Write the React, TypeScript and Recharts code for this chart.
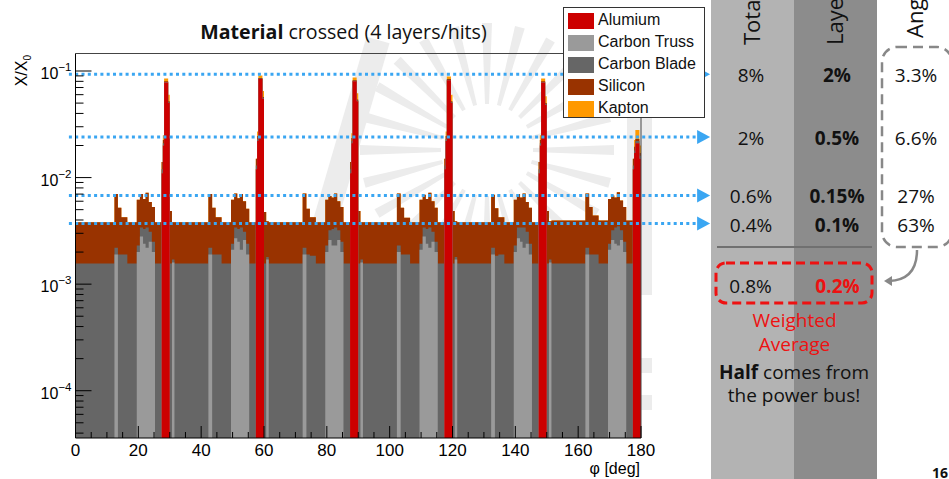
import React from 'react';
import { ComposedChart, Area, XAxis, YAxis, ReferenceLine } from 'recharts';

// ---------------- DATA ----------------
// start of each phi bin segment [deg]
const phiStart: number[] = [
  0, 12.4, 13.5, 14.6, 16.5, 19.5, 20.5, 21.5, 22.3, 23.3, 24.3, 25.3, 27.4, 27.8, 28.2, 29.5,
  30, 30.7, 31.5, 42.3, 43.5, 44.6, 46.5, 49.5, 50.5, 51.5, 52.3, 53.3, 54.3, 55.3, 57.4, 57.8, 58.2, 59.5,
  60, 60.7, 61.5, 72.3, 73.5, 74.6, 76.5, 79.5, 80.5, 81.5, 82.3, 83.3, 84.3, 85.3, 87.4, 87.8, 88.2, 89.5,
  90, 90.7, 91.5, 102.3, 103.5, 104.6, 106.5, 109.5, 110.5, 111.5, 112.3, 113.3, 114.3, 115.3, 117.4, 117.8, 118.2, 119.5,
  120, 120.7, 121.5, 132.3, 133.5, 134.6, 136.5, 139.5, 140.5, 141.5, 142.3, 143.3, 144.3, 145.3, 147.4, 147.8, 148.2, 149.5,
  150, 150.7, 151.5, 162.3, 163.5, 164.6, 166.5, 169.5, 170.5, 171.5, 172.3, 173.3, 174.3, 175.3, 177.4, 177.8, 178.2, 179.5,
  180,
];

// material budget per segment, in units of 1e-3 X/X0
const alumium: number[] = [
  0, 0, 0, 0, 0, 0, 0, 0, 0, 0, 0, 0, 11, 20, 78, 50,
  0, 0, 0, 0, 0, 0, 0, 0, 0, 0, 0, 0, 0, 0, 12, 22, 84, 55,
  0, 0, 0, 0, 0, 0, 0, 0, 0, 0, 0, 0, 0, 0, 11, 21, 80, 52,
  0, 0, 0, 0, 0, 0, 0, 0, 0, 0, 0, 0, 0, 0, 12, 22, 82, 50,
  0, 0, 0, 0, 0, 0, 0, 0, 0, 0, 0, 0, 0, 0, 11, 20, 78, 48,
  0, 0, 0, 0, 0, 0, 0, 0, 0, 0, 0, 0, 0, 0, 12, 17, 21, 15,
  15,
];
const carbonTruss: number[] = [
  0, 1.9, 0, 0, 0, 2.0, 2.8, 2.4, 2.2, 2.5, 2.0, 0, 0, 0, 0, 0,
  0, 1.6, 0, 1.9, 0, 0, 0, 2.1, 2.7, 2.5, 2.1, 2.6, 1.9, 0, 0, 0, 0, 0,
  0, 1.7, 0, 1.9, 0, 0, 0, 2.0, 2.6, 2.3, 2.3, 2.6, 2.0, 0, 0, 0, 0, 0,
  0, 1.6, 0, 2.0, 0, 0, 0, 2.1, 2.8, 2.4, 2.2, 2.5, 2.0, 0, 0, 0, 0, 0,
  0, 1.7, 0, 1.9, 0, 0, 0, 2.0, 2.7, 2.5, 2.2, 2.4, 1.9, 0, 0, 0, 0, 0,
  0, 1.6, 0, 1.9, 0, 0, 0, 2.1, 2.6, 2.4, 2.3, 2.6, 2.0, 0, 0, 0, 0, 0,
  0,
];
const carbonBlade: number[] = [
  1.56, 0.3, 1.9, 1.9, 1.56, 0.3, 0.6, 0.9, 1.2, 0.6, 0.5, 1.56, 1.0, 1.0, 1.0, 1.0,
  1.56, 0.1, 1.56, 0.3, 1.9, 1.9, 1.56, 0.3, 0.7, 0.8, 1.3, 0.5, 0.5, 1.56, 1.0, 1.0, 1.0, 1.0,
  1.56, 0.1, 1.56, 0.3, 1.9, 1.85, 1.56, 0.3, 0.6, 1.0, 1.1, 0.6, 0.5, 1.56, 1.0, 1.0, 1.0, 1.0,
  1.56, 0.1, 1.56, 0.3, 1.9, 1.9, 1.56, 0.3, 0.6, 0.9, 1.2, 0.6, 0.5, 1.56, 1.0, 1.0, 1.0, 1.0,
  1.56, 0.1, 1.56, 0.3, 1.85, 1.9, 1.56, 0.3, 0.7, 0.9, 1.2, 0.7, 0.5, 1.56, 1.0, 1.0, 1.0, 1.0,
  1.56, 0.1, 1.56, 0.3, 1.9, 1.9, 1.56, 0.3, 0.6, 1.0, 1.2, 0.6, 0.5, 1.56, 1.0, 1.0, 1.0, 1.0,
  1.0,
];
const silicon: number[] = [
  2.24, 4.8, 3.3, 2.35, 2.24, 3.9, 3.6, 3.0, 3.8, 2.8, 2.8, 2.24, 2.0, 1.5, 1.0, 1.0,
  3.3, 2.1, 2.24, 4.8, 3.3, 2.35, 2.24, 3.8, 3.7, 3.1, 3.6, 2.9, 2.7, 2.24, 2.0, 1.5, 1.0, 1.0,
  3.2, 2.1, 2.24, 4.9, 3.2, 2.4, 2.24, 3.9, 3.5, 3.2, 3.7, 2.8, 2.8, 2.24, 2.0, 1.5, 1.0, 1.0,
  3.3, 2.1, 2.24, 4.8, 3.3, 2.3, 2.24, 3.8, 3.5, 3.0, 3.8, 2.9, 2.7, 2.24, 2.0, 1.5, 1.0, 1.0,
  3.3, 2.1, 2.24, 4.7, 3.3, 2.35, 2.24, 3.9, 3.6, 3.1, 3.7, 2.8, 2.8, 2.24, 2.0, 1.5, 1.0, 1.0,
  3.3, 2.2, 2.4, 4.9, 3.4, 2.5, 2.4, 3.9, 3.6, 3.1, 3.8, 2.9, 2.8, 2.4, 2.0, 1.5, 1.0, 1.0,
  1.0,
];
const kapton: number[] = [
  0, 0, 0, 0, 0, 0, 0, 0, 0, 0, 0, 0, 0, 2.5, 5.0, 8.0,
  0, 0, 0, 0, 0, 0, 0, 0, 0, 0, 0, 0, 0, 0, 0, 2.5, 5.0, 8.0,
  0, 0, 0, 0, 0, 0, 0, 0, 0, 0, 0, 0, 0, 0, 0, 2.5, 5.0, 8.0,
  0, 0, 0, 0, 0, 0, 0, 0, 0, 0, 0, 0, 0, 0, 0, 2.5, 5.0, 8.0,
  0, 0, 0, 0, 0, 0, 0, 0, 0, 0, 0, 0, 0, 0, 0, 2.5, 5.0, 8.0,
  0, 0, 0, 0, 0, 0, 0, 0, 0, 0, 0, 0, 0, 0, 0, 3.0, 5.0, 3.0,
  3.0,
];
const UNIT = 1e-3;

const legendNames = ['Alumium', 'Carbon Truss', 'Carbon Blade', 'Silicon', 'Kapton'];
const xMajorTicks = [0, 20, 40, 60, 80, 100, 120, 140, 160, 180];
const xMinorTicks = [5, 10, 15, 25, 30, 35, 45, 50, 55, 65, 70, 75, 85, 90, 95, 105, 110, 115, 125, 130, 135, 145, 150, 155, 165, 170, 175];
const yMajorTicks = [1e-4, 1e-3, 1e-2, 1e-1];
const yMajorLabels = ['\u22124', '\u22123', '\u22122', '\u22121'];
const yMinorTicks = [
  4e-5, 5e-5, 6e-5, 7e-5, 8e-5, 9e-5,
  2e-4, 3e-4, 4e-4, 5e-4, 6e-4, 7e-4, 8e-4, 9e-4,
  2e-3, 3e-3, 4e-3, 5e-3, 6e-3, 7e-3, 8e-3, 9e-3,
  2e-2, 3e-2, 4e-2, 5e-2, 6e-2, 7e-2, 8e-2, 9e-2,
];
// annotation arrow levels (blue dotted arrows)
const arrowLevels = [0.093, 0.024, 0.0068, 0.0037];

// right-hand table
const totalCol = ['8%', '2%', '0.6%', '0.4%'];
const layerCol = ['2%', '0.5%', '0.15%', '0.1%'];
const angleCol = ['3.3%', '6.6%', '27%', '63%'];

// ---------------- STYLE ----------------
const Y_MIN = 3.6e-5;
const Y_MAX = 0.146;
const FLOOR = 1e-8;
const COLORS = {
  alumium: '#cc0000',
  truss: '#9a9a9a',
  blade: '#666666',
  silicon: '#993300',
  kapton: '#ff9900',
};
const legendColors = [COLORS.alumium, COLORS.truss, COLORS.blade, COLORS.silicon, COLORS.kapton];
const ROOT_FONT = "'Liberation Sans', Arial, sans-serif";
const SLIDE_FONT = "'Open Sans', 'Noto Sans', sans-serif";
const BLUE = '#3aa6f2';
const WM = '#ececec';

const rows = phiStart.map((phi, i) => {
  const c1 = alumium[i] * UNIT;
  const c2 = c1 + carbonTruss[i] * UNIT;
  const c3 = c2 + carbonBlade[i] * UNIT;
  const c4 = c3 + silicon[i] * UNIT;
  const c5 = c4 + kapton[i] * UNIT;
  const f = (v: number) => (v > 0 ? v : FLOOR);
  return { phi, alTop: f(c1), trussTop: f(c2), bladeTop: f(c3), siTop: f(c4), kapTop: f(c5) };
});

// decorative background watermark (sun rays)
const rayAngles = Array.from({ length: 24 }, (_, i) => i * 15);
const rayPolygon = (deg: number) => {
  const cx = 487, cy = 150, r0 = 46, r1 = 127;
  const a = (deg * Math.PI) / 180;
  const ux = Math.cos(a), uy = Math.sin(a);
  const nx = -uy, ny = ux;
  const w0 = 2, w1 = 5;
  const p = [
    [cx + ux * r0 + nx * w0, cy + uy * r0 + ny * w0],
    [cx + ux * r1 + nx * w1, cy + uy * r1 + ny * w1],
    [cx + ux * r1 - nx * w1, cy + uy * r1 - ny * w1],
    [cx + ux * r0 - nx * w0, cy + uy * r0 - ny * w0],
  ];
  return p.map((q) => q.join(',')).join(' ');
};

const XTick = (props: any) => {
  const { x, y, payload } = props;
  const v = payload.value;
  const major = xMajorTicks.includes(v);
  return (
    <g>
      <line x1={x} x2={x} y1={y} y2={y - (major ? 12 : 6)} stroke="#000" strokeWidth={1} />
      {major && (
        <text x={x} y={y + 18} textAnchor="middle" fontSize={17} fontFamily={ROOT_FONT} fill="#000">
          {v}
        </text>
      )}
    </g>
  );
};

const YTick = (props: any) => {
  const { x, y, payload } = props;
  const v = payload.value;
  const idx = yMajorTicks.indexOf(v);
  const major = idx >= 0;
  return (
    <g>
      <line x1={x} x2={x + (major ? 16 : 8)} y1={y} y2={y} stroke="#000" strokeWidth={1} />
      {major && (
        <text x={x - 4} y={y + 8} textAnchor="end" fontSize={16} fontFamily={ROOT_FONT} fill="#000">
          10
          <tspan dy={-8} fontSize={11.5}>
            {yMajorLabels[idx]}
          </tspan>
        </text>
      )}
    </g>
  );
};

const ArrowLine = (props: any) => {
  const { x1, y1, x2, y2 } = props;
  return (
    <g>
      <line x1={x1} y1={y1} x2={x2 - 13} y2={y2} stroke={BLUE} strokeWidth={3} strokeDasharray="3 3.3" />
      <polygon points={`${x2 - 13},${y2 - 7} ${x2},${y2} ${x2 - 13},${y2 + 7}`} fill={BLUE} />
    </g>
  );
};

const Panel = () => (
  <svg width={949} height={479} style={{ position: 'absolute', left: 0, top: 0 }}>
    {/* watermark */}
    <g fill={WM}>
      {rayAngles.map((d) => (
        <polygon key={d} points={rayPolygon(d)} />
      ))}
      <line x1={322} y1={232} x2={378} y2={40} stroke={WM} strokeWidth={24} />
      <rect x={627} y={95} width={25} height={200} />
      <rect x={641} y={358} width={11} height={15} />
      <rect x={641} y={395} width={11} height={15} />
    </g>
    <rect x={711} y={0} width={83} height={479} fill="#b3b3b3" />
    <rect x={794} y={0} width={83} height={479} fill="#8c8c8c" />
    <g fontFamily={SLIDE_FONT} fill="#111">
      <text transform="translate(760,45) rotate(-90)" fontSize={22}>Total</text>
      <text transform="translate(843,45) rotate(-90)" fontSize={22}>Layer</text>
      <text transform="translate(923,38) rotate(-90)" fontSize={22}>Angle</text>
      {[81.5, 145, 203, 231.5].map((by, i) => (
        <g key={i}>
          <text x={751} y={by} textAnchor="middle" fontSize={19}>{totalCol[i]}</text>
          <text x={837} y={by} textAnchor="middle" fontSize={19} fontWeight="bold">{layerCol[i]}</text>
          <text x={916} y={by} textAnchor="middle" fontSize={19}>{angleCol[i]}</text>
        </g>
      ))}
      <line x1={717} x2={872} y1={247} y2={247} stroke="#707070" strokeWidth={2} />
      <rect x={882} y={47} width={70} height={200} rx={15} fill="none" stroke="#888" strokeWidth={2.5} strokeDasharray="10 6" />
      <path d="M 917 250 Q 917 280 889 281" fill="none" stroke="#888" strokeWidth={2.5} />
      <polygon points="884,281 892,276 892,286" fill="#888" />
      <rect x={716} y={263} width={156} height={40} rx={10} fill="none" stroke="#ee1111" strokeWidth={3} strokeDasharray="9 5" />
      <text x={750.5} y={293} textAnchor="middle" fontSize={19}>0.8%</text>
      <text x={837.5} y={293} textAnchor="middle" fontSize={19} fontWeight="bold" fill="#ee1111">0.2%</text>
      <text x={794.5} y={327} textAnchor="middle" fontSize={19} fill="#ee1111">Weighted</text>
      <text x={794.5} y={351} textAnchor="middle" fontSize={19} fill="#ee1111">Average</text>
      <text x={794} y={378.5} textAnchor="middle" fontSize={19}>
        <tspan fontWeight="bold">Half</tspan> comes from
      </text>
      <text x={794} y={402} textAnchor="middle" fontSize={19}>the power bus!</text>
      <text x={940} y={478} textAnchor="middle" fontSize={14} fontWeight="bold">16</text>
      <text x={343.5} y={38.5} textAnchor="middle" fontSize={19.6}>
        <tspan fontWeight="bold">Material</tspan> crossed (4 layers/hits)
      </text>
    </g>
    <g fontFamily={ROOT_FONT} fill="#000">
      <text transform="translate(27,55) rotate(-90)" textAnchor="end" fontSize={16}>
        X/X<tspan dy={4} fontSize={10}>0</tspan>
      </text>
      <text x={640} y={474} textAnchor="end" fontSize={16}>
        {'\u03c6 [deg]'}
      </text>
    </g>
  </svg>
);

const LegendBox = () => (
  <div
    style={{
      position: 'absolute',
      left: 563,
      top: 7,
      width: 140,
      height: 109,
      border: '1px solid #333',
      background: '#fff',
      fontFamily: ROOT_FONT,
      fontSize: 16,
      color: '#111',
    }}
  >
    {legendNames.map((n, i) => (
      <div key={n} style={{ position: 'absolute', left: 0, top: 2 + i * 22, height: 22, width: 140 }}>
        <div style={{ position: 'absolute', left: 4, top: 3, width: 26, height: 16, background: legendColors[i] }} />
        <div style={{ position: 'absolute', left: 34, top: 1, lineHeight: '18px', whiteSpace: 'nowrap' }}>{n}</div>
      </div>
    ))}
  </div>
);

export default function App() {
  return (
    <div style={{ position: 'absolute', left: 0, top: 0, width: 949, height: 479, overflow: 'hidden', background: '#fff' }}>
      <Panel />
      <div style={{ position: 'absolute', left: 0, top: 0 }}>
        <ComposedChart width={949} height={479} data={rows} margin={{ top: 53.5, right: 308, bottom: 40, left: 74.5 }}>
          <Area dataKey="kapTop" type="stepAfter" baseValue={Y_MIN} stroke="none" fill={COLORS.kapton} fillOpacity={1} isAnimationActive={false} dot={false} activeDot={false} />
          <Area dataKey="siTop" type="stepAfter" baseValue={Y_MIN} stroke="none" fill={COLORS.silicon} fillOpacity={1} isAnimationActive={false} dot={false} activeDot={false} />
          <Area dataKey="bladeTop" type="stepAfter" baseValue={Y_MIN} stroke="none" fill={COLORS.blade} fillOpacity={1} isAnimationActive={false} dot={false} activeDot={false} />
          <Area dataKey="trussTop" type="stepAfter" baseValue={Y_MIN} stroke="none" fill={COLORS.truss} fillOpacity={1} isAnimationActive={false} dot={false} activeDot={false} />
          <Area dataKey="alTop" type="stepAfter" baseValue={Y_MIN} stroke="none" fill={COLORS.alumium} fillOpacity={1} isAnimationActive={false} dot={false} activeDot={false} />
          <XAxis
            dataKey="phi"
            type="number"
            domain={[0, 180]}
            allowDataOverflow
            ticks={[...xMajorTicks, ...xMinorTicks]}
            interval={0}
            tickSize={0}
            tickMargin={0}
            tickLine={false}
            tick={(p: any) => <XTick {...p} />}
            axisLine={{ stroke: '#000', strokeWidth: 1 }}
            height={1}
          />
          <YAxis
            type="number"
            scale="log"
            domain={[Y_MIN, Y_MAX]}
            allowDataOverflow
            ticks={[...yMajorTicks, ...yMinorTicks]}
            interval={0}
            tickSize={0}
            tickMargin={0}
            tickLine={false}
            tick={(p: any) => <YTick {...p} />}
            axisLine={{ stroke: '#000', strokeWidth: 1 }}
            width={1}
          />
          <ReferenceLine y={Y_MAX} stroke="#444" strokeWidth={1} ifOverflow="visible" />
          <ReferenceLine x={180} stroke="#444" strokeWidth={1} ifOverflow="visible" />
          {arrowLevels.map((v) => (
            <ReferenceLine
              key={v}
              segment={[{ x: -2.1, y: v }, { x: 202, y: v }]}
              ifOverflow="visible"
              shape={(p: any) => <ArrowLine {...p} />}
            />
          ))}
        </ComposedChart>
      </div>
      <LegendBox />
    </div>
  );
}
